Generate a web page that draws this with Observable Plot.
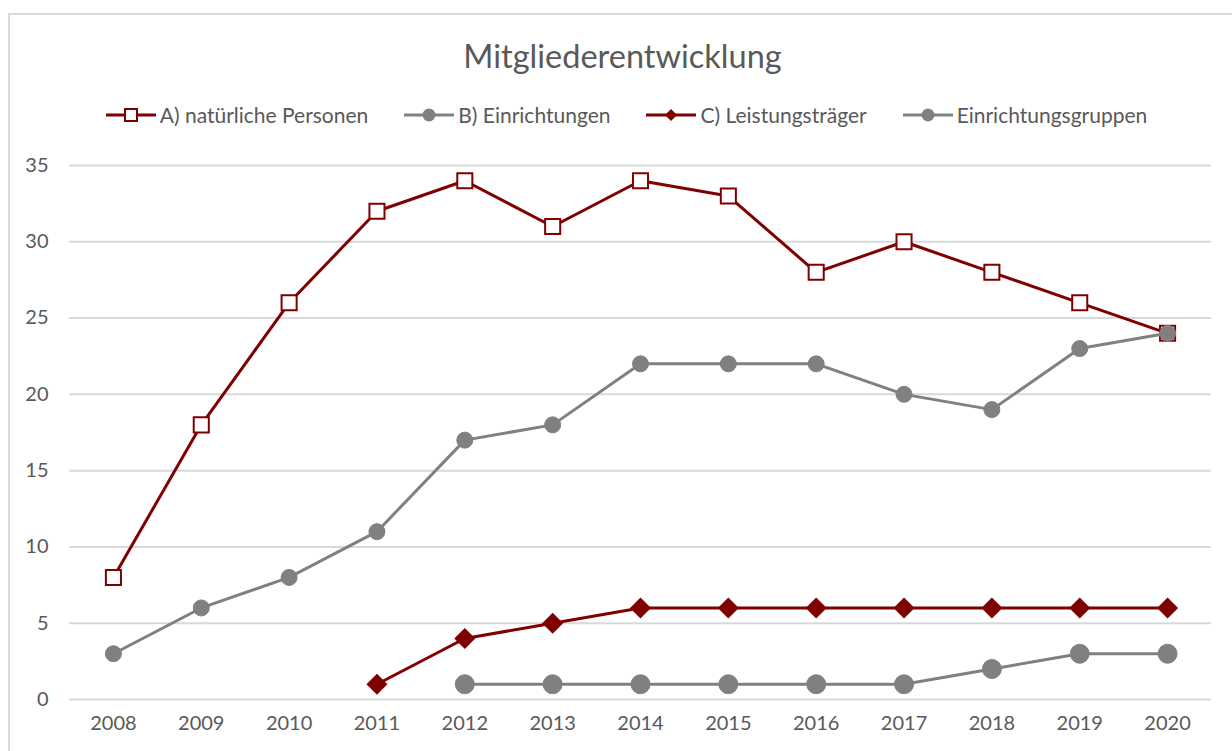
<!DOCTYPE html>
<html>
<head>
<meta charset="utf-8">
<script src="https://cdn.jsdelivr.net/npm/d3@7"></script>
<script src="https://cdn.jsdelivr.net/npm/@observablehq/plot@0.6"></script>
<style>
  html, body { margin: 0; padding: 0; background: #fff; overflow: hidden; width: 1232px; height: 751px; }
  body { font-family: Lato, "Open Sans", sans-serif; color: #595959; position: relative; }
  #frame { position: absolute; left: 8px; top: 13px; width: 1300px; height: 800px; border: 2px solid #d9d9d9; box-sizing: border-box; }
  #title { position: absolute; left: 0; top: 36px; width: 1245px; text-align: center; font-size: 32.5px; line-height: 40px; color: #595959; }
  #legend { position: absolute; left: 0; top: 101px; width: 1253px; display: flex; justify-content: center; gap: 36px; font-size: 21px; line-height: 28px; color: #595959; }
  .item { display: flex; align-items: center; gap: 4px; white-space: nowrap; }
  #chart { position: absolute; left: 0; top: 140px; }
</style>
</head>
<body>
<div id="frame"></div>
<div id="title">Mitgliederentwicklung</div>
<div id="legend"></div>
<div id="chart"></div>
<script>
const years = [2008, 2009, 2010, 2011, 2012, 2013, 2014, 2015, 2016, 2017, 2018, 2019, 2020];
const natuerlichePersonen = [8, 18, 26, 32, 34, 31, 34, 33, 28, 30, 28, 26, 24];
const einrichtungen       = [3, 6, 8, 11, 17, 18, 22, 22, 22, 20, 19, 23, 24];
const leistungstraeger    = [null, null, null, 1, 4, 5, 6, 6, 6, 6, 6, 6, 6];
const einrichtungsgruppen = [null, null, null, null, 1, 1, 1, 1, 1, 1, 2, 3, 3];
const seriesNames = ["A) natürliche Personen", "B) Einrichtungen", "C) Leistungsträger", "Einrichtungsgruppen"];
const yTicks = [0, 5, 10, 15, 20, 25, 30, 35];

const RED = "#800000";
const GRAY = "#808080";

function rows(values) {
  return years.map((y, i) => ({year: String(y), value: values[i]})).filter(d => d.value != null);
}
const A = rows(natuerlichePersonen);
const B = rows(einrichtungen);
const C = rows(leistungstraeger);
const D = rows(einrichtungsgruppen);

const chart = Plot.plot({
  width: 1232,
  height: 611,
  marginLeft: 69,
  marginRight: 21,
  marginTop: 25,
  marginBottom: 52,
  style: {fontFamily: "Lato, 'Open Sans', sans-serif", fontSize: "20px", color: "#595959", background: "transparent"},
  x: {type: "point", domain: years.map(String), padding: 0.5, round: false, label: null},
  y: {domain: [0, 35], label: null},
  marks: [
    Plot.ruleY(yTicks, {stroke: "#d9d9d9", strokeWidth: 2}),
    Plot.axisY(yTicks, {tickSize: 0, tickPadding: 21, label: null, fill: "#595959"}),
    Plot.axisX({tickSize: 0, tickPadding: 16, label: null, fill: "#595959"}),
    Plot.line(A, {x: "year", y: "value", stroke: RED, strokeWidth: 3}),
    Plot.dot(A, {x: "year", y: "value", symbol: "square", r: 8.5, fill: "white", stroke: RED, strokeWidth: 2}),
    Plot.line(B, {x: "year", y: "value", stroke: GRAY, strokeWidth: 3}),
    Plot.dot(B, {x: "year", y: "value", r: 8, fill: GRAY, stroke: GRAY, strokeWidth: 1}),
    Plot.line(C, {x: "year", y: "value", stroke: RED, strokeWidth: 3}),
    Plot.dot(C, {x: "year", y: "value", symbol: "diamond2", r: 8.5, fill: RED, stroke: RED, strokeWidth: 1.5}),
    Plot.line(D, {x: "year", y: "value", stroke: GRAY, strokeWidth: 3}),
    Plot.dot(D, {x: "year", y: "value", r: 9.5, fill: GRAY, stroke: GRAY, strokeWidth: 1})
  ]
});
document.getElementById("chart").appendChild(chart);

// legend
const legendSpecs = [
  {name: seriesNames[0], color: RED, marker: "square"},
  {name: seriesNames[1], color: GRAY, marker: "circle"},
  {name: seriesNames[2], color: RED, marker: "diamond"},
  {name: seriesNames[3], color: GRAY, marker: "circle"}
];
const legend = document.getElementById("legend");
legendSpecs.forEach(s => {
  const item = document.createElement("div");
  item.className = "item";
  let m = "";
  if (s.marker === "square") m = `<rect x="19" y="5" width="12" height="12" fill="white" stroke="${s.color}" stroke-width="2"/>`;
  if (s.marker === "circle") m = `<circle cx="25" cy="11" r="6.5" fill="${s.color}"/>`;
  if (s.marker === "diamond") m = `<path d="M25,5 L31,11 L25,17 L19,11 Z" fill="${s.color}"/>`;
  item.innerHTML = `<svg width="50" height="22"><line x1="0" x2="50" y1="11" y2="11" stroke="${s.color}" stroke-width="3"/>${m}</svg><span></span>`;
  item.querySelector("span").textContent = s.name;
  legend.appendChild(item);
});
</script>
</body>
</html>
